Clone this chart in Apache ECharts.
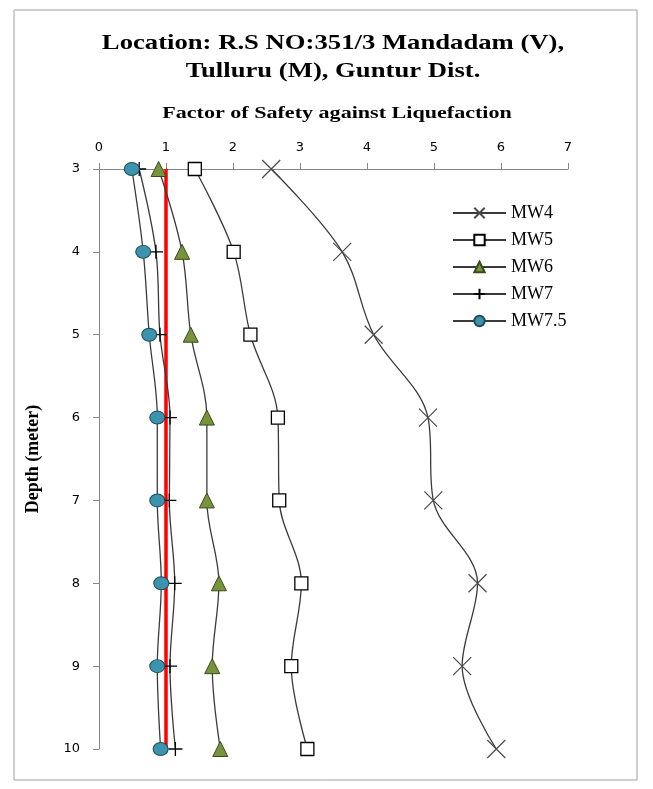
<!DOCTYPE html>
<html>
<head>
<meta charset="utf-8">
<script src="https://cdn.jsdelivr.net/npm/echarts@6/dist/echarts.min.js"></script>
<style>html,body{margin:0;padding:0;background:#fff}#c{width:653px;height:789px}</style>
</head>
<body>
<div id="c"></div>
<script>
const depths = [3, 4, 5, 6, 7, 8, 9, 10];
const mw4 = [2.57, 3.63, 4.10, 4.91, 4.99, 5.65, 5.42, 5.93];
const mw5 = [1.43, 2.01, 2.26, 2.67, 2.69, 3.02, 2.87, 3.11];
const mw6 = [0.89, 1.24, 1.37, 1.61, 1.61, 1.79, 1.69, 1.81];
const mw7 = [0.60, 0.85, 0.91, 1.06, 1.05, 1.13, 1.06, 1.14];
const mw75 = [0.49, 0.66, 0.75, 0.87, 0.87, 0.93, 0.87, 0.92];
const limitFS = [1, 1];
const limitDepth = [3, 10];
const titleLines = ['Location: R.S NO:351/3 Mandadam (V),', 'Tulluru (M), Guntur Dist.'];
const xName = 'Factor of Safety against Liquefaction';
const yName = 'Depth (meter)';

const pair = (xs, ys) => xs.map((v, i) => [v, ys[i]]);
const chart = echarts.init(document.getElementById('c'));
const lineStyle = { color: '#3a3a3a', width: 1.3 };
const mk = (name, vals, symbol, size, itemStyle) => ({
  name, type: 'line', data: pair(vals, depths), smooth: 0.35,
  symbol, symbolSize: size, lineStyle, itemStyle, z: 3
});
const stretchText = (text, x, y, size, sx) => ({
  type: 'text', x, y, scaleX: sx, silent: true,
  style: { text, fontFamily: 'Liberation Serif', fontWeight: 'bold', fontSize: size,
    fill: '#000', textAlign: 'center', textVerticalAlign: 'middle' }
});
chart.setOption({
  animation: false,
  graphic: [
    { type: 'rect', shape: { x: 14, y: 10, width: 623, height: 770 },
      style: { fill: 'none', stroke: '#a0a0a0', lineWidth: 1 }, silent: true },
    stretchText(titleLines[0], 333, 44, 21, 1.27),
    stretchText(titleLines[1], 333, 72, 21, 1.27),
    stretchText(xName, 337, 114, 16, 1.38)
  ],
  legend: {
    orient: 'vertical', left: 452, top: 204, padding: 0, itemWidth: 53, itemHeight: 13, itemGap: 9,
    data: ['MW4', 'MW5', 'MW6', 'MW7', 'MW7.5'],
    textStyle: { fontFamily: 'Liberation Serif', fontSize: 18, color: '#000' }
  },
  grid: { left: 99, right: 85, top: 169, bottom: 40, containLabel: false },
  xAxis: {
    type: 'value', position: 'top', min: 0, max: 7, interval: 1,
    axisLine: { lineStyle: { color: '#868686', width: 1 } },
    axisTick: { show: true, length: 6, lineStyle: { color: '#868686' } },
    axisLabel: { fontFamily: 'DejaVu Sans', fontSize: 13, color: '#000', margin: 15 },
    splitLine: { show: false }
  },
  yAxis: {
    type: 'value', inverse: true, min: 3, max: 10, interval: 1,
    name: yName, nameLocation: 'middle', nameGap: 57, nameRotate: 90,
    nameTextStyle: { fontFamily: 'Liberation Serif', fontWeight: 'bold', fontSize: 18, color: '#000' },
    axisLine: { lineStyle: { color: '#868686', width: 1 } },
    axisTick: { show: true, length: 6, lineStyle: { color: '#868686' } },
    axisLabel: { fontFamily: 'DejaVu Sans', fontSize: 13, color: '#000', margin: 19 },
    splitLine: { show: false }
  },
  series: [
    {
      name: 'FS=1', type: 'line', data: pair(limitFS, limitDepth), symbol: 'none',
      lineStyle: { color: '#ff0000', width: 3.5 }, z: 2
    },
    mk('MW4', mw4, 'path://M0,0L10,10M10,0L0,10', 18, { color: 'none', borderColor: '#4a4a4a', borderWidth: 1.2 }),
    mk('MW5', mw5, 'rect', 13, { color: '#fff', borderColor: '#000', borderWidth: 1.3 }),
    mk('MW6', mw6, 'triangle', 15, { color: '#77933c', borderColor: '#3a4a1e', borderWidth: 1 }),
    mk('MW7', mw7, 'path://M5,0L5,10M0,5L10,5', 14, { color: 'none', borderColor: '#000', borderWidth: 1.3 }),
    mk('MW7.5', mw75, 'circle', [15, 13], { color: '#3b93ad', borderColor: '#1f4e5c', borderWidth: 1 })
  ]
});
</script>
</body>
</html>
